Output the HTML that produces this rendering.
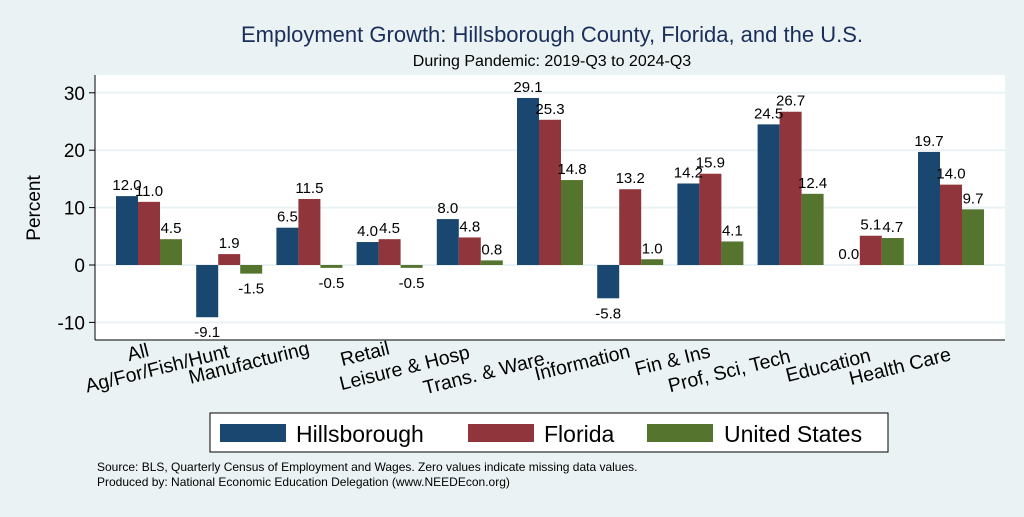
<!DOCTYPE html>
<html><head><meta charset="utf-8"><style>
body{margin:0;width:1024px;height:512px;background:#eaf2f3;font-family:"Liberation Sans",sans-serif;overflow:hidden}
</style></head><body>
<svg id="chart" width="1024" height="512" xmlns="http://www.w3.org/2000/svg">
<text x="552" y="42" text-anchor="middle" font-size="22" fill="#1a2e5a">Employment Growth: Hillsborough County, Florida, and the U.S.</text>
<text x="552" y="66" text-anchor="middle" font-size="16" fill="#000">During Pandemic: 2019-Q3 to 2024-Q3</text>
<rect x="95" y="75" width="910" height="265" fill="#fff"/>
<g id="grid"></g><g id="bars"></g><g id="labels"></g>
<line x1="95" y1="75" x2="95" y2="340" stroke="#000"/>
<line x1="95" y1="340" x2="1005" y2="340" stroke="#000"/>
<text transform="translate(40,208) rotate(-90)" text-anchor="middle" font-size="19">Percent</text>
<g>
<rect x="210" y="413" width="678" height="39" fill="#fff" stroke="#000"/>
<rect x="220" y="424" width="66" height="18" fill="#1a476f"/>
<text x="296" y="442" font-size="23">Hillsborough</text>
<rect x="468" y="424" width="66" height="18" fill="#90353b"/>
<text x="544" y="442" font-size="23">Florida</text>
<rect x="647" y="424" width="66" height="18" fill="#55752f"/>
<text x="724" y="442" font-size="23">United States</text>
</g>
<text x="97" y="471" font-size="12">Source: BLS, Quarterly Census of Employment and Wages. Zero values indicate missing data values.</text>
<text x="97" y="486" font-size="12">Produced by: National Economic Education Delegation (www.NEEDEcon.org)</text>
</svg>
<script>
const categories=["All","Ag/For/Fish/Hunt","Manufacturing","Retail","Leisure & Hosp","Trans. & Ware.","Information","Fin & Ins","Prof, Sci, Tech","Education","Health Care"];
const hillsborough=[12.0,-9.1,6.5,4.0,8.0,29.1,-5.8,14.2,24.5,0.0,19.7];
const florida=[11.0,1.9,11.5,4.5,4.8,25.3,13.2,15.9,26.7,5.1,14.0];
const unitedStates=[4.5,-1.5,-0.5,-0.5,0.8,14.8,1.0,4.1,12.4,4.7,9.7];
const yTicks=[-10,0,10,20,30];
const labelRow=[356,357,354,354,358,363,357,357,362,361,360];
const NS="http://www.w3.org/2000/svg";
const y=v=>265-v*5.74;
const xc=i=>149+i*80.2;
const bw=22;
function mk(t,a,p){const e=document.createElementNS(NS,t);for(const k in a)e.setAttribute(k,a[k]);p.appendChild(e);return e;}
const grid=document.getElementById('grid'),bars=document.getElementById('bars'),labels=document.getElementById('labels');
yTicks.forEach(t=>{
 const g=mk('line',{x1:95,x2:1005,y1:y(t),y2:y(t),stroke:'#eaf2f3','stroke-width':2},grid);
 
 
 const tk=mk('line',{x1:89,x2:95,y1:y(t),y2:y(t),stroke:'#000'},grid);
 
 
 const tx=mk('text',{x:85,y:y(t)+7,'text-anchor':'end','font-size':19},grid);
 tx.textContent=t;
 
 
});
const series=[[hillsborough,'#1a476f'],[florida,'#90353b'],[unitedStates,'#55752f']];
categories.forEach((c,i)=>{
 series.forEach(([arr,col],s)=>{
  const v=arr[i],x=xc(i)-33+s*bw;
  const r=mk('rect',{x:x,y:Math.min(y(v),y(0)),width:bw,height:Math.abs(y(v)-y(0)),fill:col},bars);
  
  
  const ly=v>=0?y(v)-6:y(v)+20;
  const t=mk('text',{x:x+bw/2,y:ly,'text-anchor':'middle','font-size':15},labels);
  t.textContent=v.toFixed(1);
  
  
 });
 const lx=xc(i)+1,ly=labelRow[i];
 const t=mk('text',{x:lx,y:ly,'text-anchor':'end','font-size':19.5,transform:`rotate(-14 ${lx} ${ly})`},labels);
 t.textContent=c;
 
 
});
</script>
</body></html>
